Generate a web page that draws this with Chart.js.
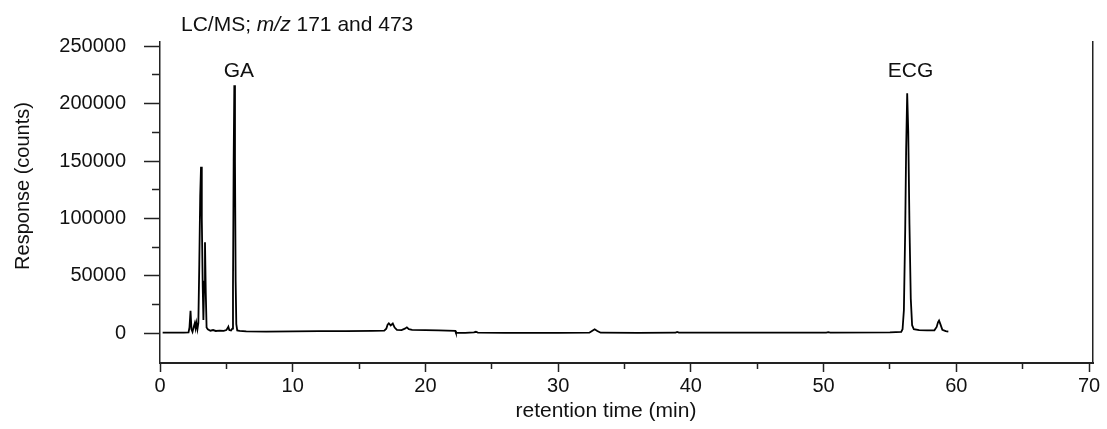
<!DOCTYPE html>
<html><head><meta charset="utf-8">
<script src="https://cdn.jsdelivr.net/npm/chart.js@4"></script>
<style>html,body{margin:0;padding:0;background:#fff}canvas{display:block}</style>
</head><body>
<canvas id="c" width="1107" height="429"></canvas>
<script>
// ---- data ----
const retentionTime = [
  0.20, 1.00, 1.80, 2.15, 2.22, 2.30, 2.37, 2.45, 2.55, 2.62, 2.68, 2.74, 2.82,
  2.89, 2.96, 3.03, 3.09, 3.15, 3.22, 3.27, 3.33, 3.39, 3.45, 3.51, 3.60, 3.80,
  4.00, 4.20, 4.50, 4.80, 5.00, 5.10, 5.15, 5.22, 5.35, 5.45, 5.50, 5.55, 5.60,
  5.65, 5.70, 5.75, 5.82, 6.00, 6.50, 8.00, 10.00, 12.00, 14.00, 16.00, 16.90,
  17.05, 17.15, 17.24, 17.38, 17.54, 17.68, 17.85, 18.20, 18.45, 18.60, 18.75,
  19.00, 20.00, 21.00, 22.25, 22.30, 23.00, 23.65, 23.80, 23.95, 26.00, 30.00,
  32.35, 32.55, 32.75, 32.95, 33.20, 36.00, 38.85, 38.96, 39.10, 45.00, 50.20,
  50.35, 50.50, 55.00, 55.85, 55.95, 56.05, 56.15, 56.22, 56.30, 56.38, 56.47,
  56.57, 56.67, 56.80, 57.20, 57.80, 58.35, 58.52, 58.62, 58.70, 58.80, 58.95,
  59.20, 59.40
];
const response = [
  500, 500, 600, 800, 5000, 19500, 3500, 1200, 6000, 8800, 4500, 9000, 3500,
  9000, 60000, 120000, 145000, 100000, 40000, 11600, 45000, 79300, 35000, 5000, 3500, 2200,
  2800, 2000, 2300, 2100, 2800, 4500, 5700, 2800, 2500, 4000, 40000, 150000, 216000,
  150000, 45000, 8000, 2500, 2000, 1700, 1500, 1600, 1800, 1900, 2100, 2300,
  4000, 7500, 8700, 6800, 8500, 5000, 3000, 2800, 4000, 5200, 3500,
  3000, 2800, 2500, 2100, 400, 400, 800, 1300, 600, 400, 400,
  500, 2000, 3500, 2000, 500, 400, 500, 1200, 500, 500, 600,
  900, 600, 700, 1200, 3500, 20000, 90000, 160000, 209000, 175000, 95000,
  30000, 7000, 3500, 2800, 2500, 2600, 5500, 9500, 11000, 8000, 3000,
  1800, 1400
];
const xTickValues = [0, 5, 10, 15, 20, 25, 30, 35, 40, 45, 50, 55, 60, 65, 70];
const xTickLabels = ['0', '', '10', '', '20', '', '30', '', '40', '', '50', '', '60', '', '70'];
const yTickValues = [0, 25000, 50000, 75000, 100000, 125000, 150000, 175000, 200000, 225000, 250000];
const yTickLabels = ['0', '', '50000', '', '100000', '', '150000', '', '200000', '', '250000'];
const peakNames = ['GA', 'ECG'];
const peakLabelTime = [5.94, 56.55];
const peakLabelResponse = [223000, 223000];
const chartTitleParts = [['LC/MS; ', 'normal'], ['m/z', 'italic'], [' 171 and 473', 'normal']];
const xAxisTitle = 'retention time (min)';
const yAxisTitle = 'Response (counts)';
const xRange = [0, 70.3];
const yRange = [-25900, 253700];

const FONT = '"Liberation Sans", Arial, Helvetica, sans-serif';
const INK = '#111';
const AXIS = '#222';

const textPlugin = {
  id: 'texts',
  afterDraw(chart) {
    const {ctx, scales: {x, y}} = chart;
    ctx.save();
    ctx.fillStyle = INK;
    ctx.textBaseline = 'alphabetic';
    ctx.textAlign = 'left';
    let tx = 181;
    for (const [txt, style] of chartTitleParts) {
      ctx.font = style + ' 21px ' + FONT;
      ctx.fillText(txt, tx, 31);
      tx += ctx.measureText(txt).width;
    }
    ctx.font = '21px ' + FONT;
    ctx.textAlign = 'center';
    peakNames.forEach((n, i) => {
      ctx.fillText(n, x.getPixelForValue(peakLabelTime[i]), y.getPixelForValue(peakLabelResponse[i]));
    });
    ctx.fillText(xAxisTitle, x.getPixelForValue(33.6), 417);
    // y axis title
    ctx.font = '20px ' + FONT;
    ctx.translate(29, 186);
    ctx.rotate(-Math.PI / 2);
    ctx.textAlign = 'center';
    ctx.fillText(yAxisTitle, 0, 0);
    ctx.restore();
  }
};

new Chart(document.getElementById('c'), {
  type: 'line',
  data: {
    datasets: [{
      data: retentionTime.map((t, i) => ({x: t, y: response[i]})),
      borderColor: '#000',
      borderWidth: 1.8,
      pointRadius: 0,
      tension: 0,
      fill: false
    }]
  },
  options: {
    responsive: false,
    animation: false,
    devicePixelRatio: 1,
    layout: {padding: {top: 42, right: 14, left: 0, bottom: 0}},
    plugins: {legend: {display: false}, tooltip: {enabled: false}, title: {display: false}},
    scales: {
      x: {
        type: 'linear', min: xRange[0], max: xRange[1],
        afterBuildTicks: s => { s.ticks = xTickValues.map(v => ({value: v})); },
        afterFit: s => { s.height = 66; },
        ticks: {
          autoSkip: false, maxRotation: 0, padding: 2,
          color: INK, font: {family: FONT, size: 20},
          callback: (v, i) => xTickLabels[i]
        },
        grid: {
          drawOnChartArea: false, drawTicks: true, tickLength: 9, color: AXIS, tickWidth: 1.5,
          tickBorderDash: c => (c.tick && xTickLabels[c.index] === '' ? [5, 100] : [])
        },
        border: {display: true, color: AXIS, width: 2}
      },
      y: {
        type: 'linear', position: 'left', min: yRange[0], max: yRange[1],
        afterBuildTicks: s => { s.ticks = yTickValues.map(v => ({value: v})); },
        afterFit: s => { s.width = 160; },
        ticks: {
          autoSkip: false, padding: 18,
          color: INK, font: {family: FONT, size: 20},
          callback: (v, i) => yTickLabels[i]
        },
        grid: {
          drawOnChartArea: false, drawTicks: true, tickLength: 16, tickWidth: 1.5,
          color: AXIS,
          tickBorderDash: c => (c.tick && yTickLabels[c.index] === '' ? [0, 8, 8, 100] : [])
        },
        border: {display: true, color: AXIS, width: 1.5}
      },
      yRight: {
        type: 'linear', position: 'right', min: yRange[0], max: yRange[1],
        afterFit: s => { s.width = 0; },
        ticks: {display: false},
        grid: {drawOnChartArea: false, drawTicks: false},
        border: {display: true, color: AXIS, width: 1.5}
      }
    }
  },
  plugins: [textPlugin]
});
</script>
</body></html>
